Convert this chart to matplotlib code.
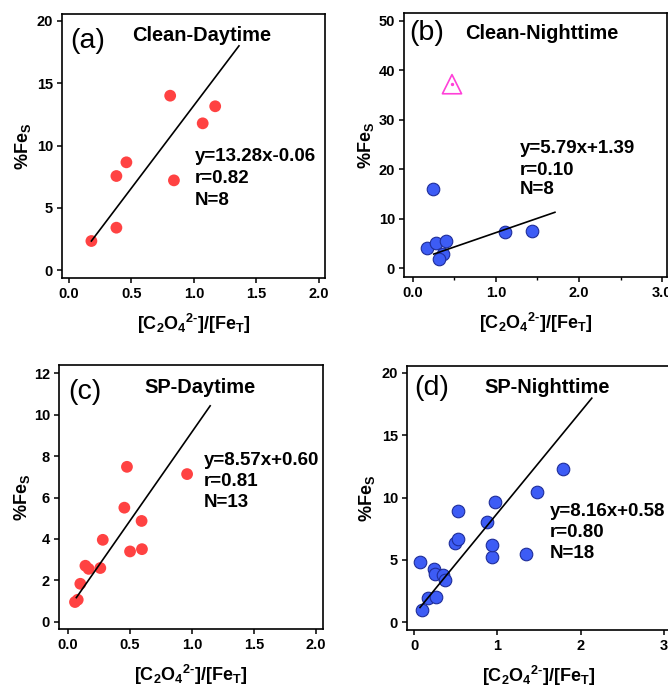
import numpy as np
import matplotlib
matplotlib.use("Agg")
import matplotlib.pyplot as plt

plt.rcParams['font.family'] = ['Liberation Sans', 'DejaVu Sans']
plt.rcParams['mathtext.fontset'] = 'custom'
plt.rcParams['mathtext.rm'] = 'Liberation Sans:bold'
plt.rcParams['mathtext.it'] = 'Liberation Sans:bold'
plt.rcParams['mathtext.bf'] = 'Liberation Sans:bold'

# ---- data ----
a_x = [0.18, 0.38, 0.38, 0.46, 0.81, 0.84, 1.07, 1.17]
a_y = [2.33, 3.40, 7.55, 8.65, 14.0, 7.2, 11.78, 13.15]
a_fit = (13.28, -0.06)
a_fit_range = (0.18, 1.36)

b_x = [0.24, 0.17, 0.28, 0.40, 0.36, 0.31, 1.11, 1.43]
b_y = [15.95, 4.05, 5.1, 5.4, 2.9, 1.9, 7.36, 7.57]
b_out_x = [0.47]
b_out_y = [37.2]
b_fit = (5.79, 1.39)
b_fit_range = (0.25, 1.71)

c_x = [0.056, 0.078, 0.099, 0.14, 0.166, 0.26, 0.28, 0.454, 0.475, 0.50, 0.593, 0.596, 0.96]
c_y = [0.96, 1.07, 1.84, 2.71, 2.56, 2.6, 3.96, 5.51, 7.48, 3.40, 4.87, 3.51, 7.13]
c_fit = (8.57, 0.60)
c_fit_range = (0.067, 1.146)

d_x = [0.068, 0.092, 0.172, 0.26, 0.24, 0.248, 0.348, 0.372, 0.488, 0.528, 0.528,
       0.88, 0.936, 0.936, 0.972, 1.34, 1.472, 1.79]
d_y = [4.83, 0.93, 1.92, 1.98, 4.27, 3.85, 3.79, 3.39, 6.33, 6.68, 8.92,
       8.01, 5.23, 6.19, 9.67, 5.50, 10.47, 12.28]
d_fit = (8.16, 0.58)
d_fit_range = (0.072, 2.132)

panels = ['(a)', '(b)', '(c)', '(d)']
titles = ['Clean-Daytime', 'Clean-Nighttime', 'SP-Daytime', 'SP-Nighttime']
stats = [['y=13.28x-0.06', 'r=0.82', 'N=8'],
         ['y=5.79x+1.39', 'r=0.10', 'N=8'],
         ['y=8.57x+0.60', 'r=0.81', 'N=13'],
         ['y=8.16x+0.58', 'r=0.80', 'N=18']]

RED = '#FF4242'
BLUE = '#3D5CF5'
BLUE_EDGE = '#1E2D9A'
MAG = '#FF40D8'

W, H = 668, 685
fig = plt.figure(figsize=(W / 100, H / 100), dpi=100)

def add_ax(l, r, t, b):
    return fig.add_axes([l / W, (H - b) / H, (r - l) / W, (b - t) / H])

axes = [add_ax(62, 325, 14, 278), add_ax(404, 667, 13, 277),
        add_ax(59, 323, 365, 629), add_ax(407, 670, 366, 630)]

xlabel = r'[C$_2$O$_4{}^{2\text{-}}$]/[Fe$_T$]'
ylabel = r'%Fe$_S$'

layout = [
    dict(xlim=(-0.055, 2.048), ylim=(-0.64, 20.56), xt=[0, 0.5, 1, 1.5, 2], xtl=['0.0', '0.5', '1.0', '1.5', '2.0'],
         yt=[0, 5, 10, 15, 20], lab=(0.03, 0.898), tit=(0.53, 0.92), st=(0.506, [0.462, 0.378, 0.295]),
         ylc=-0.11, xminor=None),
    dict(xlim=(-0.108, 3.06), ylim=(-1.8, 51.6), xt=[0, 1, 2, 3], xtl=['0.0', '1.0', '2.0', '3.0'],
         yt=[0, 10, 20, 30, 40, 50], lab=(0.02, 0.924), tit=(0.525, 0.924), st=(0.441, [0.485, 0.405, 0.33]),
         ylc=-0.106, xminor=[0.5, 1.5, 2.5]),
    dict(xlim=(-0.073, 2.056), ylim=(-0.34, 12.39), xt=[0, 0.5, 1, 1.5, 2], xtl=['0.0', '0.5', '1.0', '1.5', '2.0'],
         yt=[0, 2, 4, 6, 8, 10, 12], lab=(0.034, 0.898), tit=(0.534, 0.913), st=(0.549, [0.64, 0.56, 0.48]),
         ylc=-0.102, xminor=None),
    dict(xlim=(-0.084, 3.07), ylim=(-0.64, 20.56), xt=[0, 1, 2, 3], xtl=['0', '1', '2', '3'],
         yt=[0, 5, 10, 15, 20], lab=(0.027, 0.917), tit=(0.532, 0.92), st=(0.544, [0.45, 0.368, 0.288]),
         ylc=-0.114, xminor=None),
]

data = [(a_x, a_y, a_fit, a_fit_range, RED, 'none'),
        (b_x, b_y, b_fit, b_fit_range, BLUE, BLUE_EDGE),
        (c_x, c_y, c_fit, c_fit_range, RED, 'none'),
        (d_x, d_y, d_fit, d_fit_range, BLUE, BLUE_EDGE)]

for i, ax in enumerate(axes):
    L = layout[i]
    xs, ys, fit, fr, col, ec = data[i]
    if ec == 'none':
        ax.scatter(xs, ys, s=72, color=col, edgecolors='none', zorder=3)
    else:
        ax.scatter(xs, ys, s=82, color=col, edgecolors=ec, linewidths=0.8, zorder=3)
    fx = np.array(fr)
    ax.plot(fx, fit[0] * fx + fit[1], color='black', lw=1.2, zorder=4)
    if i == 1:
        ax.scatter(b_out_x, b_out_y, marker='^', s=190, facecolors='none', edgecolors=MAG, linewidths=1.2, zorder=3)
        ax.scatter(b_out_x, b_out_y, marker='o', s=2, color=MAG, zorder=3)
    ax.set_xlim(*L['xlim'])
    ax.set_ylim(*L['ylim'])
    ax.set_xticks(L['xt'])
    ax.set_xticklabels(L['xtl'])
    ax.set_yticks(L['yt'])
    if L['xminor']:
        ax.set_xticks(L['xminor'], minor=True)
    for s in ax.spines.values():
        s.set_linewidth(1.2)
    ax.tick_params(which='major', direction='out', length=3.5, width=1.1, labelsize=10.5, pad=3)
    ax.tick_params(which='minor', direction='out', length=2, width=1.0)
    for t in ax.get_xticklabels() + ax.get_yticklabels():
        t.set_fontweight('bold')
    ax.set_xlabel(xlabel, fontsize=13, fontweight='bold')
    ax.set_ylabel(ylabel, fontsize=13, fontweight='bold')
    ax.xaxis.set_label_coords(0.5, -0.128)
    ax.yaxis.set_label_coords(L['ylc'], 0.5)
    ax.text(L['lab'][0], L['lab'][1], panels[i], transform=ax.transAxes, fontsize=20.5,
            ha='left', va='center')
    ax.text(L['tit'][0], L['tit'][1], titles[i], transform=ax.transAxes, fontsize=14.4,
            fontweight='bold', ha='center', va='center')
    for k, line in enumerate(stats[i]):
        ax.text(L['st'][0], L['st'][1][k], line, transform=ax.transAxes, fontsize=13.5,
                fontweight='bold', ha='left', va='center')

fig.savefig('out.png', dpi=100)
